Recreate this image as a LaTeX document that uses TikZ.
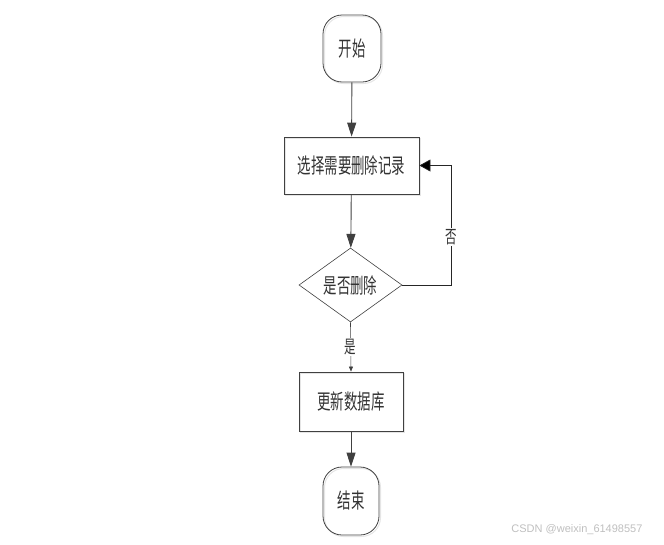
\documentclass[tikz,border=0pt]{standalone}
\usepackage{fontspec}
\newfontfamily\cjk[FakeStretch=0.64]{Noto Sans CJK SC}
\newfontfamily\wmfont{Liberation Sans}
\usetikzlibrary{shapes.geometric,arrows.meta}
\begin{document}
\begin{tikzpicture}[x=1pt,y=-1pt,
  every node/.style={font=\cjk\fontsize{21}{21}\selectfont, text=black!80},
  shadowed/.style={preaction={draw=black!10,line width=1pt,transform canvas={shift={(1.5pt,-1.5pt)}}}},
  terminal/.style={draw=black!75,line width=0.8pt,rounded corners=19pt,minimum width=58pt,minimum height=67pt,inner sep=0pt,shadowed},
  procbox/.style={draw=black!75,line width=0.8pt,inner sep=0pt,shadowed},
  decision/.style={diamond,draw=black!75,line width=0.6pt,aspect=1.39,minimum width=103pt,minimum height=74pt,inner sep=0pt},
  flow/.style={draw=black!75,line width=0.9pt,-{Triangle[length=14pt,width=9pt,fill=black!75]}},
  smallflow/.style={draw=black!75,line width=0.6pt,-{Triangle[length=5pt,width=4pt]}},
  loopflow/.style={draw=black!85,line width=0.7pt,-{Triangle[length=11pt,width=12pt,fill=black]}},
  lbl/.style={font=\cjk\fontsize{18}{18}\selectfont,fill=white,inner sep=1pt}
]
\useasboundingbox (0,0) rectangle (664,544);
\node[terminal] (start) at (352,48.5) {开始};
\node[procbox,minimum width=135pt,minimum height=57pt] (sel) at (351.5,165.5) {选择需要删除记录};
\node[decision] (dec) at (350.5,285) {是否删除};
\node[procbox,minimum width=104pt,minimum height=59pt] (upd) at (351,401.5) {更新数据库};
\node[terminal,minimum width=56pt,minimum height=68pt] (end) at (351,501) {结束};
\coordinate (c1) at (451,285);
\coordinate (c2) at (451,165.5);
\draw[flow] (start) -- (sel);
\draw[flow] (sel) -- (dec);
\draw[smallflow] (dec.south) -- node[lbl,pos=0.5] {是} (upd.north);
\draw[flow] (upd) -- (end);
\draw[loopflow] (dec.east) -- (c1) -- node[lbl,pos=0.4] {否} (c2) -- (sel.east);
\node[font=\wmfont\fontsize{11}{11}\selectfont,text=black!25,anchor=east] (wm) at (646,530) {CSDN @weixin\_61498557};
\end{tikzpicture}
\end{document}
